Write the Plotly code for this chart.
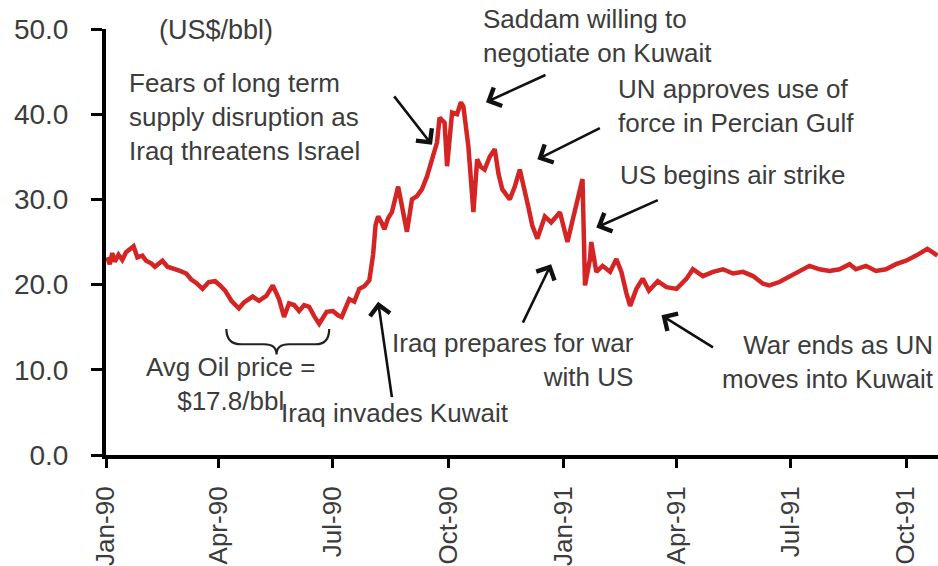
import pandas as pd
import plotly.graph_objects as go

# Daily Brent-style crude price through the 1990-91 Gulf crisis (US$/bbl)
dates = [
    "1990-01-02", "1990-01-04", "1990-01-06", "1990-01-08", "1990-01-11", "1990-01-14",
    "1990-01-17", "1990-01-20", "1990-01-23", "1990-01-26", "1990-01-30", "1990-02-02",
    "1990-02-06", "1990-02-09", "1990-02-13", "1990-02-15", "1990-02-19", "1990-02-24",
    "1990-03-01", "1990-03-06", "1990-03-10", "1990-03-14", "1990-03-19", "1990-03-24",
    "1990-03-29", "1990-04-02", "1990-04-06", "1990-04-11", "1990-04-17", "1990-04-21",
    "1990-04-25", "1990-04-28", "1990-05-03", "1990-05-09", "1990-05-14", "1990-05-19",
    "1990-05-23", "1990-05-27", "1990-05-31", "1990-06-04", "1990-06-08", "1990-06-12",
    "1990-06-16", "1990-06-20", "1990-06-26", "1990-07-01", "1990-07-05", "1990-07-08",
    "1990-07-14", "1990-07-18", "1990-07-22", "1990-07-26", "1990-07-30", "1990-08-02",
    "1990-08-04", "1990-08-06", "1990-08-09", "1990-08-11", "1990-08-14", "1990-08-17",
    "1990-08-22", "1990-08-26", "1990-08-29", "1990-09-02", "1990-09-06", "1990-09-10",
    "1990-09-14", "1990-09-18", "1990-09-22", "1990-09-24", "1990-09-28", "1990-09-30",
    "1990-10-04", "1990-10-08", "1990-10-11", "1990-10-13", "1990-10-17", "1990-10-21",
    "1990-10-24", "1990-10-27", "1990-10-30", "1990-11-03", "1990-11-07", "1990-11-10",
    "1990-11-13", "1990-11-19", "1990-11-23", "1990-11-27", "1990-12-01", "1990-12-04",
    "1990-12-07", "1990-12-11", "1990-12-17", "1990-12-22", "1990-12-29", "1991-01-04",
    "1991-01-08", "1991-01-11", "1991-01-16", "1991-01-18", "1991-01-22", "1991-01-23",
    "1991-01-27", "1991-02-01", "1991-02-07", "1991-02-12", "1991-02-16", "1991-02-20",
    "1991-02-23", "1991-02-28", "1991-03-05", "1991-03-10", "1991-03-17", "1991-03-24",
    "1991-04-01", "1991-04-09", "1991-04-14", "1991-04-22", "1991-04-30", "1991-05-08",
    "1991-05-16", "1991-05-24", "1991-06-01", "1991-06-09", "1991-06-14", "1991-06-22",
    "1991-06-30", "1991-07-08", "1991-07-16", "1991-07-24", "1991-08-01", "1991-08-09",
    "1991-08-17", "1991-08-22", "1991-08-30", "1991-09-07", "1991-09-15", "1991-09-23",
    "1991-10-01", "1991-10-09", "1991-10-18", "1991-10-22", "1991-10-26",
]
prices = [
    23.2, 22.4, 23.7, 22.7, 23.5, 22.9,
    23.8, 24.2, 24.5, 23.2, 23.4, 22.8,
    22.5, 22.1, 22.5, 22.8, 22.1, 21.9,
    21.6, 21.3, 20.6, 20.2, 19.5, 20.3,
    20.4, 19.9, 19.3, 18.1, 17.2, 17.9,
    18.3, 18.6, 18.1, 18.7, 19.9, 18.3,
    16.2, 17.8, 17.6, 16.9, 17.6, 17.4,
    16.3, 15.4, 16.8, 16.9, 16.4, 16.2,
    18.3, 18.0, 19.5, 19.8, 20.5, 23.5,
    27.0, 28.0, 27.2, 26.5, 27.8, 28.5,
    31.5, 28.5, 26.2, 30.0, 30.4, 31.2,
    32.7, 34.7, 36.7, 39.6, 39.0, 33.9,
    40.2, 40.0, 41.4, 40.9, 36.2, 28.5,
    34.7, 33.8, 33.5, 35.0, 35.9, 33.0,
    31.2, 30.0, 31.5, 33.5, 31.2, 29.0,
    26.9, 25.4, 28.0, 27.3, 28.5, 25.0,
    27.5, 29.2, 32.4, 19.9, 23.0, 25.0,
    21.5, 22.2, 21.5, 23.0, 21.5, 19.0,
    17.5, 19.5, 20.7, 19.3, 20.4, 19.7,
    19.5, 20.7, 21.8, 21.0, 21.5, 21.8,
    21.3, 21.5, 21.0, 20.1, 19.9, 20.3,
    20.9, 21.6, 22.2, 21.8, 21.6, 21.8,
    22.4, 21.8, 22.2, 21.6, 21.8, 22.4,
    22.8, 23.4, 24.2, 23.8, 23.4,
]

tick_dates = ["1990-01-01", "1990-04-01", "1990-07-01", "1990-10-01",
              "1991-01-01", "1991-04-01", "1991-07-01", "1991-10-01"]
tick_labels = ["Jan-90", "Apr-90", "Jul-90", "Oct-90",
               "Jan-91", "Apr-91", "Jul-91", "Oct-91"]

X_RANGE = ["1990-01-01", "1991-10-26 12:00"]
Y_RANGE = [0, 50]

FONT = "Arial, 'Liberation Sans', sans-serif"
TEXT_COLOR = "#3c3c3c"
NOTE_SIZE = 26

fig = go.Figure()
fig.add_trace(go.Scatter(
    x=dates, y=prices, mode="lines",
    line=dict(color="#d42424", width=4.5),
    showlegend=False, hoverinfo="x+y",
))

# event call-outs: (arrow tip date, arrow tip price, tail offset px)
arrows = [
    ("1990-09-18", 36.4, -39, -50),   # fears of supply disruption
    ("1990-10-31", 41.4, 61, -28),    # Saddam willing to negotiate
    ("1990-12-11", 34.7, 64, -32),    # UN approves use of force
    ("1991-01-27", 26.7, 63, -28),    # air strike begins
    ("1990-12-22", 22.4, -29, 60),    # Iraq prepares for war
    ("1990-08-06", 18.0, 14, 97),     # Iraq invades Kuwait
    ("1991-03-20", 16.4, 53, 33),     # war ends
]
for d, v, ax, ay in arrows:
    fig.add_annotation(
        x=d, y=v, ax=ax, ay=ay, text="", showarrow=True,
        arrowhead=4, arrowsize=1.5, arrowwidth=2.6, arrowcolor="#111111",
        standoff=0,
    )

# event labels: (date, price, text, xanchor, align, size)
labels = [
    ("1990-03-30", 49.9, "(US$/bbl)", "center", "center", 27),
    ("1990-01-18", 39.7, "Fears of long term<br>supply disruption as<br>Iraq threatens Israel",
     "left", "left", NOTE_SIZE),
    ("1990-10-27", 49.2, "Saddam willing to<br>negotiate on Kuwait", "left", "left", NOTE_SIZE),
    ("1991-02-12", 41.0, "UN approves use of<br>force in Percian Gulf", "left", "left", NOTE_SIZE),
    ("1991-02-13", 32.9, "US begins air strike", "left", "left", NOTE_SIZE),
    ("1990-04-10", 8.3, "Avg Oil price =<br>$17.8/bbl", "center", "center", NOTE_SIZE),
    ("1990-05-19", 4.9, "Iraq invades Kuwait", "left", "left", NOTE_SIZE),
    ("1991-02-28", 11.1, "Iraq prepares for war<br>with US", "right", "right", NOTE_SIZE),
    ("1991-10-25", 10.9, "War ends as UN<br>moves into Kuwait", "right", "right", NOTE_SIZE),
]
for d, v, txt, xa, al, sz in labels:
    fig.add_annotation(
        x=d, y=v, text=txt, showarrow=False, xanchor=xa, yanchor="middle",
        align=al, font=dict(family=FONT, size=sz, color=TEXT_COLOR),
    )

# curly brace over the April-June averaging window
x0, x1 = (pd.Timestamp(s) for s in X_RANGE)


def px(d):
    return (pd.Timestamp(d) - x0) / (x1 - x0)


def py(v):
    return (v - Y_RANGE[0]) / (Y_RANGE[1] - Y_RANGE[0])


b_left, b_right, b_mid = "1990-04-07", "1990-06-28", "1990-05-17"
b_top, b_bar, b_tip = 14.8, 13.0, 11.8
xl, xr, xm = px(b_left), px(b_right), px(b_mid)
xl2, xr2 = px("1990-04-19"), px("1990-06-17")
xm_l, xm_r = px("1990-05-07"), px("1990-05-27")
path = (
    f"M {xl},{py(b_top)} Q {xl},{py(b_bar)} {xl2},{py(b_bar)} "
    f"L {xm_l},{py(b_bar)} Q {xm},{py(b_bar)} {xm},{py(b_tip)} "
    f"Q {xm},{py(b_bar)} {xm_r},{py(b_bar)} "
    f"L {xr2},{py(b_bar)} Q {xr},{py(b_bar)} {xr},{py(b_top)}"
)
fig.add_shape(type="path", path=path, xref="paper", yref="paper",
              line=dict(color="#222222", width=2.2))

fig.update_layout(
    width=938, height=566,
    margin=dict(l=106, r=0, t=29, b=109),
    paper_bgcolor="white", plot_bgcolor="white",
    font=dict(family=FONT, color=TEXT_COLOR),
    xaxis=dict(
        type="date", range=X_RANGE,
        tickvals=tick_dates, ticktext=tick_labels, tickangle=-90,
        ticks="outside", ticklen=9, tickwidth=3, tickcolor="black",
        showline=True, linewidth=4, linecolor="black",
        showgrid=False, zeroline=False,
        tickfont=dict(family=FONT, size=26, color=TEXT_COLOR),
        ticklabelstandoff=8,
    ),
    yaxis=dict(
        range=Y_RANGE, dtick=10, tickformat=".1f",
        ticks="outside", ticklen=11, tickwidth=3, tickcolor="black",
        showline=True, linewidth=4, linecolor="black",
        showgrid=False, zeroline=False,
        tickfont=dict(family=FONT, size=28, color=TEXT_COLOR),
        ticklabelstandoff=17,
    ),
)

fig.write_html("out.html")
